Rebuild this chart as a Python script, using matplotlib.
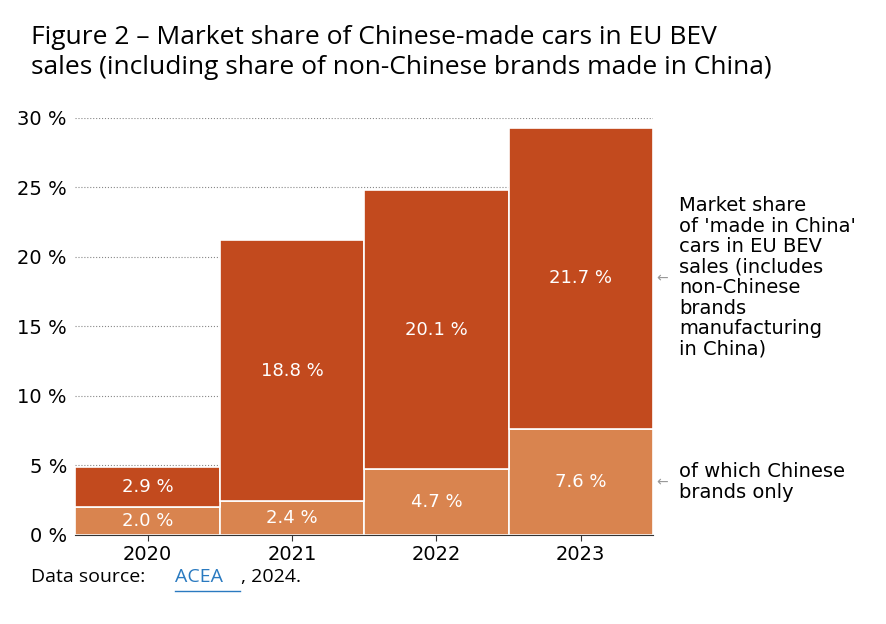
import matplotlib
matplotlib.use("Agg")
import matplotlib.pyplot as plt

years = ["2020", "2021", "2022", "2023"]
chinese_brands = [2.0, 2.4, 4.7, 7.6]
other_made_in_china = [2.9, 18.8, 20.1, 21.7]

dark = "#C24A1E"
light = "#D9844F"
narrow = ["Liberation Sans Narrow", "DejaVu Sans"]

fig = plt.figure(figsize=(8.86, 6.24), dpi=100)
ax = fig.add_axes([0.085, 0.143, 0.652, 0.668])
x = range(len(years))
ax.bar(x, chinese_brands, width=1.0, color=light, edgecolor="white", linewidth=1.2)
ax.bar(x, other_made_in_china, width=1.0, bottom=chinese_brands, color=dark,
       edgecolor="white", linewidth=1.2)

for i in x:
    b, t = chinese_brands[i], other_made_in_china[i]
    ax.text(i, b / 2, f"{b:.1f} %", ha="center", va="center", color="white",
            fontsize=13, family=narrow)
    ax.text(i, b + t / 2, f"{t:.1f} %", ha="center", va="center", color="white",
            fontsize=13, family=narrow)

ax.set_xlim(-0.5, 3.5)
ax.set_ylim(0, 30)
ax.set_yticks(range(0, 31, 5))
ax.set_yticklabels([f"{v} %" for v in range(0, 31, 5)], family=narrow, fontsize=14)
ax.set_xticks(list(x))
ax.set_xticklabels(years, family=narrow, fontsize=14)
ax.yaxis.grid(True, linestyle=":", color="#888888", linewidth=0.8)
ax.set_axisbelow(True)
for s in ["top", "right", "left"]:
    ax.spines[s].set_visible(False)
ax.spines["bottom"].set_color("#333333")
ax.tick_params(axis="y", length=0, pad=6)
ax.tick_params(axis="x", length=4, color="#333333")

ax.annotate("←", xy=(3.52, 21.7 / 2 + 7.6), va="center", ha="left", color="#999999",
            fontsize=10, annotation_clip=False)
ax.text(3.68, 18.5, "Market share\nof 'made in China'\ncars in EU BEV\nsales (includes\nnon-Chinese\nbrands\nmanufacturing\nin China)",
        va="center", ha="left", fontsize=14, family=narrow, linespacing=1.1)
ax.annotate("←", xy=(3.52, 3.8), va="center", ha="left", color="#999999",
            fontsize=10, annotation_clip=False)
ax.text(3.68, 3.8, "of which Chinese\nbrands only", va="center", ha="left",
        fontsize=14, family=narrow, linespacing=1.1)

fig.text(0.035, 0.96, "Figure 2 – Market share of Chinese-made cars in EU BEV\nsales (including share of non-Chinese brands made in China)",
         va="top", ha="left", fontsize=19, family="Open Sans", linespacing=1.25)
fig.text(0.035, 0.075, "Data source: ", fontsize=14, family="Open Sans", va="center")
fig.text(0.197, 0.075, "ACEA", fontsize=14, family="Open Sans", va="center",
         color="#2A7AC0")
fig.text(0.272, 0.075, ", 2024.", fontsize=14, family="Open Sans", va="center")
fig.add_artist(plt.Line2D([0.197, 0.271], [0.053, 0.053], color="#2A7AC0", linewidth=1))

fig.savefig("out.png", dpi=100)
